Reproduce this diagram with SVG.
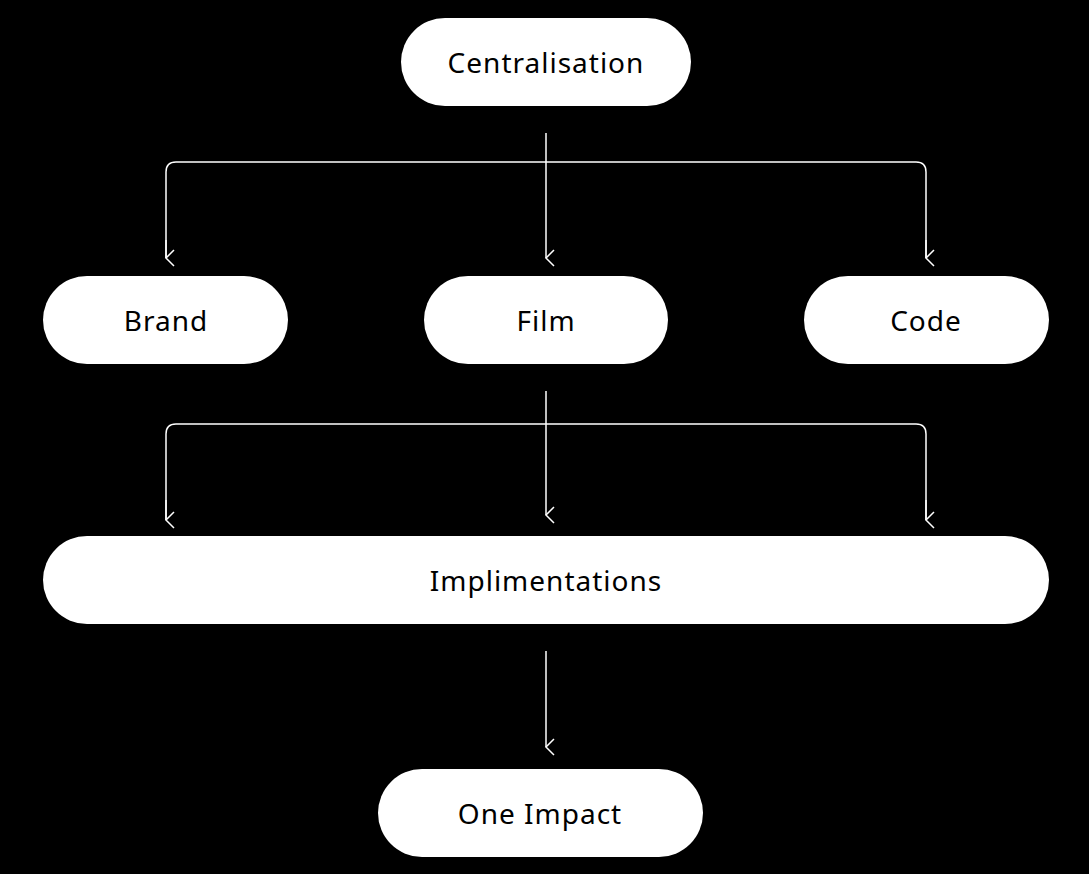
<svg xmlns="http://www.w3.org/2000/svg" width="1089" height="874" viewBox="0 0 1089 874">
<style>
.n rect{fill:#fff}
.n text{font-family:"Noto Sans","DejaVu Sans",sans-serif;font-size:28px;fill:#000;text-anchor:middle;dominant-baseline:central;letter-spacing:1px}
.c path{fill:none;stroke:#fff;stroke-width:1.5}
</style>
<defs>
<marker id="a" viewBox="0 0 20 20" refX="10" refY="18" markerWidth="20" markerHeight="20" markerUnits="userSpaceOnUse" orient="auto-start-reverse">
<path d="M2 10 L10 18 L18 10" fill="none" stroke="#fff" stroke-width="1.5"/>
</marker>
</defs>
<rect width="1089" height="874" fill="#000"/>
<g class="c">
<path d="M546 133 V258" marker-end="url(#a)" transform="rotate(0)"/>
<path d="M546 262 V133" style="display:none"/>
<path d="M166 258 V172 Q166 162 176 162 H916 Q926 162 926 172 V258"/>
<path d="M166 240 L166 258" marker-end="url(#a)"/>
<path d="M926 240 L926 258" marker-end="url(#a)"/>
<path d="M546 391 V515" marker-end="url(#a)"/>
<path d="M166 520 V434 Q166 424 176 424 H916 Q926 424 926 434 V520"/>
<path d="M166 500 L166 520" marker-end="url(#a)"/>
<path d="M926 500 L926 520" marker-end="url(#a)"/>
<path d="M546 651 V747" marker-end="url(#a)"/>
</g>
<g id="centralisation" class="n"><rect x="401" y="18" width="290" height="88" rx="44"/><text x="546" y="62">Centralisation</text></g>
<g id="brand" class="n"><rect x="43" y="276" width="245" height="88" rx="44"/><text x="166" y="320">Brand</text></g>
<g id="film" class="n"><rect x="424" y="276" width="244" height="88" rx="44"/><text x="546" y="320">Film</text></g>
<g id="code" class="n"><rect x="804" y="276" width="245" height="88" rx="44"/><text x="926" y="320">Code</text></g>
<g id="implimentations" class="n"><rect x="43" y="536" width="1006" height="88" rx="44"/><text x="546" y="580">Implimentations</text></g>
<g id="one-impact" class="n"><rect x="378" y="769" width="325" height="88" rx="44"/><text x="540" y="813">One Impact</text></g>
</svg>
